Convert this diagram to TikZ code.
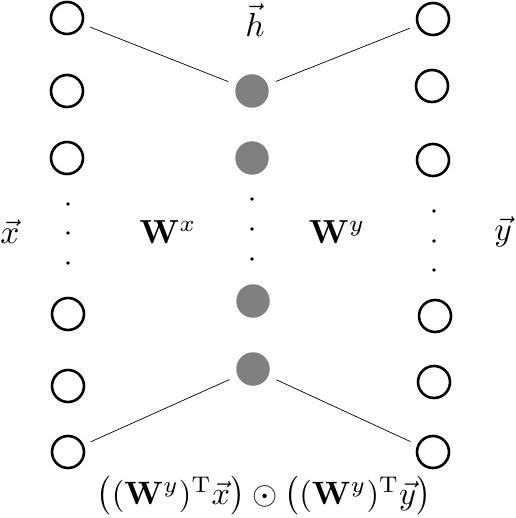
\documentclass[tikz,border=0pt]{standalone}
\usepackage{amsmath}
\begin{document}
\begin{tikzpicture}[x=1bp,y=-1bp,
  unit/.style={circle,draw=black,line width=2.6bp,minimum size=32bp,inner sep=0pt,outer sep=9bp},
  hid/.style={circle,fill=gray,draw=none,minimum size=33.5bp,inner sep=0pt,outer sep=9bp},
  conn/.style={line width=0.7bp},
  lab/.style={inner sep=0pt,font=\normalsize,scale=3.35},
  vdot/.style={fill=black}]
\useasboundingbox (0,0) rectangle (516,518);
% left column
\node[unit] (l1) at (67,18) {};
\node[unit] (l2) at (67,91) {};
\node[unit] (l3) at (67,158) {};
\node[unit] (l4) at (68,314) {};
\node[unit] (l5) at (68,386) {};
\node[unit] (l6) at (68,452) {};
% right column
\node[unit] (r1) at (433,19) {};
\node[unit] (r2) at (432,86) {};
\node[unit] (r3) at (433,160) {};
\node[unit] (r4) at (435,316) {};
\node[unit] (r5) at (434,382) {};
\node[unit] (r6) at (433,452) {};
% hidden column
\node[hid] (m1) at (252,91) {};
\node[hid] (m2) at (252,158) {};
\node[hid] (m3) at (253,301) {};
\node[hid] (m4) at (253,369) {};
% dots
\foreach \y in {204,233,263} \fill[vdot] (68,\y) circle (1.9bp);
\foreach \y in {199,229,259} \fill[vdot] (252,\y) circle (1.9bp);
\foreach \y in {211,241,270} \fill[vdot] (434,\y) circle (1.9bp);
% connectors
\draw[conn] (l1) -- (m1);
\draw[conn] (m1) -- (r1);
\draw[conn] (l6) -- (m4);
\draw[conn] (m4) -- (r6);
% labels
\node[lab] (h) at (255,20) {$\vec{h}$};
\node[lab] (x) at (10,232) {$\vec{x}$};
\node[lab] (y) at (503,232) {$\vec{y}$};
\node[lab] (wx) at (168,232) {$\mathbf{W}^x$};
\node[lab] (wy) at (337,232) {$\mathbf{W}^y$};
\node[lab,scale=0.97] (f) at (264,496) {$\bigl((\mathbf{W}^y)^{\mathrm{T}}\vec{x}\bigr)\odot\bigl((\mathbf{W}^y)^{\mathrm{T}}\vec{y}\bigr)$};
\end{tikzpicture}
\end{document}
